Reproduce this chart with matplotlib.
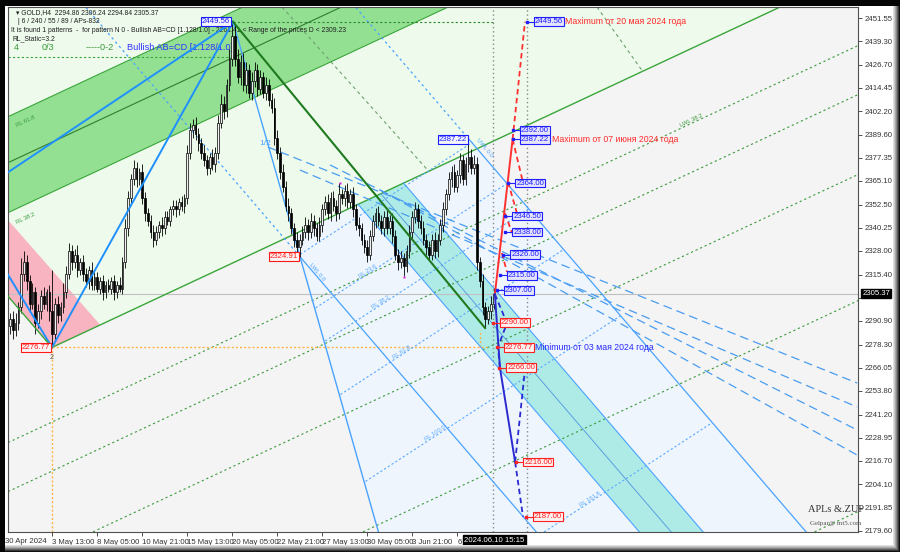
#!/usr/bin/env python3
"""GOLD H4 chart: AB=CD pattern, channels, fibo lines and projected levels."""

import matplotlib

matplotlib.use("Agg")
import matplotlib.pyplot as plt
import matplotlib.transforms as mtransforms
from matplotlib.patches import Polygon, Rectangle
import numpy as np

plt.rcParams["font.family"] = ["Liberation Sans", "DejaVu Sans"]

# ---------------- candles (H4 bars, bar 0 ~ 30 Apr) ----------------
first_open = 2288.0
close = [
    2292, 2286, 2290, 2298, 2316, 2322, 2312, 2300, 2306, 2290,
    2296, 2304, 2300, 2306, 2296, 2284, 2300, 2294, 2298, 2306,
    2316, 2328, 2322, 2326, 2318, 2322, 2316, 2312, 2318, 2310,
    2314, 2308, 2312, 2306, 2310, 2308, 2312, 2306, 2310, 2308,
    2322, 2340, 2356, 2366, 2372, 2366, 2370, 2356, 2348, 2344,
    2338, 2334, 2338, 2342, 2340, 2346, 2344, 2350, 2352, 2350,
    2354, 2352, 2356, 2380, 2392, 2395, 2390, 2385, 2380, 2376,
    2372, 2378, 2374, 2380, 2396, 2406, 2402, 2416, 2430, 2442,
    2430, 2420, 2428, 2416, 2424, 2412, 2418, 2424, 2414, 2420,
    2412, 2416, 2408, 2404, 2388, 2380, 2370, 2362, 2352, 2348,
    2340, 2334, 2330, 2334, 2338, 2342, 2338, 2344, 2340, 2336,
    2342, 2350, 2354, 2348, 2356, 2352, 2348, 2358, 2356, 2360,
    2354, 2358, 2350, 2342, 2340, 2334, 2330, 2326, 2336, 2344,
    2348, 2344, 2340, 2346, 2340, 2344, 2336, 2326, 2322, 2324,
    2320, 2328, 2338, 2346, 2350, 2344, 2340, 2334, 2330, 2326,
    2334, 2328, 2334, 2342, 2350, 2358, 2366, 2370, 2362, 2368,
    2376, 2366, 2374, 2378, 2372, 2374, 2322, 2312, 2298, 2292,
    2296, 2300, 2305.37,
]
upper_wick = [
    3, 4, 5, 3, 8, 6, 4, 3, 5, 3,
    4, 3, 5, 2, 4, 22, 3, 4, 3, 5,
    4, 4, 3, 3, 5, 2, 4, 3, 2, 4,
    3, 3, 2, 3, 2, 3, 2, 3, 2, 4,
    3, 5, 4, 3, 4, 3, 2, 4, 3, 3,
    3, 4, 3, 2, 4, 3, 3, 2, 3, 3,
    2, 3, 2, 4, 4, 3, 4, 3, 3, 4,
    3, 2, 4, 3, 4, 5, 4, 3, 5, 7.56,
    6, 5, 4, 5, 4, 3, 5, 4, 3, 4,
    3, 4, 3, 4, 5, 4, 3, 4, 3, 4,
    3, 3, 4, 3, 3, 4, 3, 4, 3, 3,
    4, 3, 3, 4, 3, 4, 3, 6, 3, 3,
    4, 3, 4, 3, 4, 3, 3, 4, 3, 3,
    3, 4, 3, 3, 4, 3, 4, 3, 3, 4,
    3, 3, 4, 3, 4, 3, 3, 4, 3, 3,
    3, 4, 3, 3, 4, 3, 4, 3, 4, 3,
    4, 3, 4, 9.22, 4, 5, 4, 3, 4, 3,
    3, 4, 3,
]
lower_wick = [
    4, 5, 3, 4, 3, 4, 5, 4, 3, 6,
    3, 4, 3, 4, 5, 7.23, 3, 4, 3, 3,
    3, 3, 4, 3, 4, 3, 4, 3, 4, 3,
    3, 2, 3, 4, 3, 2, 3, 4, 3, 2,
    3, 3, 4, 3, 3, 4, 3, 3, 4, 3,
    3, 4, 3, 3, 4, 3, 2, 3, 3, 4,
    3, 3, 4, 3, 3, 4, 3, 4, 3, 3,
    4, 3, 3, 4, 3, 3, 4, 3, 3, 4,
    4, 3, 4, 3, 4, 3, 4, 3, 4, 3,
    3, 4, 3, 3, 4, 3, 4, 3, 3, 4,
    3, 4, 3, 5.09, 3, 3, 4, 3, 4, 3,
    3, 4, 3, 3, 4, 3, 4, 3, 3, 4,
    3, 3, 4, 3, 4, 3, 3, 4, 3, 3,
    4, 3, 3, 4, 3, 3, 4, 3, 4, 3,
    5.4, 3, 4, 3, 3, 4, 3, 3, 4, 3,
    3, 4, 3, 3, 4, 3, 3, 4, 3, 3,
    4, 3, 3, 4, 3, 3, 4, 3, 4, 5,
    3, 4, 3,
]
last_price = 2305.37

# ---------------- axes ----------------
xlim = (-0.71, 301.51)
ylim = (2178.87, 2457.39)
y_ticks = [2451.55, 2439.30, 2426.70, 2414.45, 2402.20, 2389.60, 2377.35, 2365.10,
           2352.50, 2340.25, 2328.00, 2315.40, 2303.15, 2290.90, 2278.30, 2266.05,
           2253.80, 2241.20, 2228.95, 2216.70, 2204.10, 2191.85, 2179.60]
hidden_y_tick = 2303.15  # sits under the current-price tag
x_ticks = [15, 31, 47, 63, 79, 95, 111, 127, 143, 159]
x_tick_labels = ["3 May 13:00", "8 May 05:00", "10 May 21:00", "15 May 13:00",
                 "20 May 05:00", "22 May 21:00", "27 May 13:00", "30 May 05:00",
                 "3 Jun 21:00", "6"]
first_label = (-1.6, "30 Apr 2024")

# ---------------- zones (bar, price) ----------------
light_green_zone = [(-5, 2311.4), (14.93, 2276.77), (320, 2489.6), (320, 2500), (-5, 2500)]
dark_green_band = [(-5, 2396.2), (120, 2483.3), (200, 2488.2), (-5, 2345.3)]
pink_zone = [(-5, 2351.6), (32.0, 2288.9), (14.93, 2276.77), (-5, 2311.4)]
light_blue_zone = [(100.83, 2336.86), (166.08, 2382.33), (288.2, 2170), (132.7, 2170)]
cyan_band = [(123.72, 2352.8), (139.89, 2364.07), (251.56, 2170), (228.9, 2170)]

# ---------------- lines (bar, price) ----------------
green_channel = {
    "main": [(14.93, 2276.77), (320, 2489.6)],
    "61.8": [(-5, 2396.2), (120, 2483.3)],
    "mid": [(-5, 2371.8), (150, 2479.8)],
    "38.2": [(-5, 2345.3), (200, 2488.2)],
}
green_dotted = [
    [(-5, 2223.3), (320, 2449.8)],
    [(-5, 2197.3), (320, 2423.8)],
    [(-5, 2154.9), (320, 2381.4)],
    [(-5, 2088.0), (320, 2314.5)],
    [(-5, 1976.1), (320, 2202.6)],
]
green_cross = [
    [(96.7, 2457.4), (148.8, 2370.4)],
    [(208.7, 2457.4), (225.1, 2422.9)],
]
abcd_lines = [
    [(-0.71, 2369.7), (79.29, 2449.56)],
    [(14.93, 2276.77), (79.29, 2449.56)],
    [(-0.71, 2315.4), (14.93, 2276.77)],
]
green_leg_left = [(-0.71, 2303.97), (14.93, 2276.77)]
dark_green_leg = [(79.29, 2449.56), (168.9, 2287.1)]
steep_line = [(79.29, 2449.56), (132.7, 2170)]
lwl = [(103.11, 2324.91), (192.24, 2170)]
lwl_ext = [(22.5, 2465), (103.11, 2324.91)]
uwl = [(163.2, 2387.22), (288.2, 2170)]
uwl_ext = [(118.45, 2465), (163.2, 2387.22)]
cyan_mid = [(131.8, 2358.4), (240.2, 2170)]
rl_lines = {
    "RL 0.0": [(103.2, 2326.2), (164.4, 2385.6)],
    "RL 23.6": [(108.7, 2297.8), (176.8, 2363.8)],
    "RL 38.2": [(112.1, 2280.2), (184.5, 2350.4)],
    "RL 61.8": [(117.5, 2251.8), (196.9, 2328.8)],
    "RL 100.0": [(126.4, 2205.7), (217.1, 2293.6)],
    "RL 161.8": [(189.9, 2178.9), (249.6, 2236.8)],
}
fan_lines = [
    [(91.7, 2383.1), (301.2, 2257.9)],
    [(103.1, 2370.9), (301.2, 2245.2)],
    [(113.8, 2373.6), (301.2, 2233.0)],
    [(131.6, 2360.3), (301.2, 2219.7)],
]
high_level = (79.29, 171.7, 2449.56)
upper_dash_level = (-0.71, 80.0, 2430.86)
low_level = (14.93, 169.6, 2276.77)
now_bars = [171.7, 183.8]
fractal_marks = [(117.3, 2364.0), (140.1, 2314.2)]

# ---------------- projections ----------------
red_solid = [(172.4, 2305.0), (178.7, 2387.22)]
red_dashed = [
    [(178.7, 2387.22), (183.1, 2449.56)],
    [(178.7, 2387.22), (182.2, 2365.6)],
    [(177.1, 2364.5), (180.2, 2348.2)],
    [(176.0, 2348.0), (178.5, 2337.5)],
    [(174.9, 2326.9), (176.7, 2316.8)],
]
blue_solid = [(172.4, 2305.0), (174.2, 2266.0), (179.6, 2216.0)]
blue_dashed = [
    [(179.6, 2216.0), (182.4, 2187.0)],
    [(179.6, 2216.0), (183.1, 2265.0)],
    [(172.4, 2305.0), (176.7, 2289.7), (173.5, 2277.0), (174.2, 2266.0)],
]
blue_targets = [(186.3, 2449.56), (181.3, 2392.00), (181.3, 2387.22), (179.6, 2364.00),
                (178.5, 2346.50), (178.5, 2338.00), (177.8, 2326.00), (176.7, 2315.00),
                (175.6, 2307.00)]
red_targets = [(174.2, 2290.00), (175.6, 2276.77), (176.4, 2266.00), (182.4, 2216.00),
               (185.9, 2187.00)]
notes = [
    (197.3, 2449.56, "Maximum от 20 мая 2024 года", "#ff2a2a"),
    (192.7, 2387.22, "Maximum от 07 июня 2024 года", "#ff2a2a"),
    (186.7, 2276.77, "Minimum от 03 мая 2024 года", "#2a2aff"),
]
pivot_boxes = [
    (78.2, 2449.56, "2449.56", "blue"),
    (14.2, 2276.77, "2276.77", "red"),
    (102.4, 2324.91, "2324.91", "red"),
    (162.5, 2387.22, "2387.22", "blue"),
]

header = [
    (0.005, 0.990, "\u25be GOLD,H4  2294.86 2306.24 2294.84 2305.37", "#202020"),
    (0.005, 0.973, " | 6 / 240 / 55 / 89 / APs-832", "#202020"),
    (0.000, 0.956, "It is found 1 patterns  -  for pattern N 0 - Bullish AB=CD [1.128/1.0] - 2261.41 < Range of the prices D < 2309.23", "#202020"),
    (0.001, 0.939, "RL_Static=3.2", "#202020"),
]
header_big = [
    (0.007, "4", "#3a9a3a"),
    (0.040, "0/3", "#3a9a3a"),
    (0.091, "-----0-2", "#3a9a3a"),
    (0.140, "Bullish AB=CD [1.128/1.0]", "#3030ff"),
]

BLUE = "#1e90ff"
LBLUE = "#4aa3ff"


def seg(ax, pts, **kw):
    xs, ys = zip(*pts)
    ax.plot(xs, ys, **kw)


fig = plt.figure(figsize=(9, 5.52), dpi=100)
fig.patch.set_facecolor("white")
ax = fig.add_axes([8 / 900, 20 / 552, 850 / 900, 525 / 552])
ax.set_facecolor("#f4f4f4")
ax.set_xlim(*xlim)
ax.set_ylim(*ylim)

# zones
ax.add_patch(Polygon(light_green_zone, closed=True, fc="#eefbec", ec="none", zorder=0.5))
ax.add_patch(Polygon(dark_green_band, closed=True, fc="#93e093", ec="none", zorder=0.6))
ax.add_patch(Polygon(pink_zone, closed=True, fc="#f9b4c1", ec="none", zorder=0.6))
ax.add_patch(Polygon(light_blue_zone, closed=True, fc="#eef5fd", ec="none", zorder=0.6))
ax.add_patch(Polygon(cyan_band, closed=True, fc="#afebe6", ec="none", zorder=0.7))

# green channel
for name, pts in green_channel.items():
    lw = 1.0 if name == "main" else 0.8
    col = "#3aa53a" if name != "mid" else "#2f7d2f"
    seg(ax, pts, color=col, lw=lw, zorder=1.5)
for pts in green_dotted:
    seg(ax, pts, color="#3c9a3c", lw=0.8, ls=(0, (2, 2.5)), zorder=1.4)
for pts in green_cross:
    seg(ax, pts, color="#6f9f6f", lw=0.8, ls=(0, (3, 3)), zorder=1.4)

# level lines
ax.axhline(last_price, color="#c0c0c0", lw=0.8, zorder=1.2)
ax.hlines(high_level[2], high_level[0], high_level[1], color="#2f8a2f", lw=0.8,
          ls=(0, (2, 2)), zorder=1.6)
ax.hlines(upper_dash_level[2], upper_dash_level[0], upper_dash_level[1], color="#3aa53a",
          lw=0.8, ls=(0, (2, 2)), zorder=1.6)
ax.hlines(low_level[2], low_level[0], low_level[1], color="#ffb347", lw=1.0,
          ls=(0, (1.5, 1.5)), zorder=1.6)
ax.vlines(low_level[0], ylim[0], low_level[2], color="#ffb347", lw=1.0,
          ls=(0, (1.5, 1.5)), zorder=1.6)
ax.vlines(low_level[1] - 2.5, low_level[2], 2286.0, color="#ffb347", lw=1.0,
          ls=(0, (1.5, 1.5)), zorder=1.6)
for xb in now_bars:
    ax.axvline(xb, color="#8a8a8a", lw=1.0, ls=(0, (1, 2)), zorder=1.6)

# blue channel lines
seg(ax, lwl, color=LBLUE, lw=0.9, zorder=1.8)
seg(ax, uwl, color=LBLUE, lw=0.9, zorder=1.8)
seg(ax, lwl_ext, color=LBLUE, lw=0.9, ls=(0, (2, 2.5)), zorder=1.8)
seg(ax, uwl_ext, color=LBLUE, lw=0.9, ls=(0, (2, 2.5)), zorder=1.8)
seg(ax, cyan_band[:1] + [cyan_band[3]], color=LBLUE, lw=0.8, zorder=1.8)
seg(ax, [cyan_band[1], cyan_band[2]], color=LBLUE, lw=0.8, zorder=1.8)
seg(ax, cyan_mid, color="#5a9fe0", lw=0.7, zorder=1.8)
seg(ax, steep_line, color=LBLUE, lw=1.0, zorder=1.8)
for name, pts in rl_lines.items():
    seg(ax, pts, color="#5aa8ff", lw=0.8, ls=(0, (2, 2)), zorder=1.7)
for pts in fan_lines:
    seg(ax, pts, color="#4a9cf0", lw=0.9, ls=(0, (7, 4)), zorder=1.7)

# candles
opens = np.array([first_open] + close[:-1], dtype=float)
closes = np.array(close, dtype=float)
highs = np.maximum(opens, closes) + np.array(upper_wick)
lows = np.minimum(opens, closes) - np.array(lower_wick)
bars = np.arange(len(closes))
ax.vlines(bars, lows, highs, color="black", lw=0.6, zorder=3)
bull = closes >= opens
ax.bar(bars[bull], (closes - opens)[bull], bottom=opens[bull], width=0.62,
       color="#f0f0f0", edgecolor="black", lw=0.5, zorder=3.1)
ax.bar(bars[~bull], (opens - closes)[~bull], bottom=closes[~bull], width=0.62,
       color="black", edgecolor="black", lw=0.5, zorder=3.1)
for xb, yp in fractal_marks:
    ax.plot(xb, yp, marker="s", ms=2, color="#e020e0", mec="none", zorder=3.5)

# pattern lines on top of the candles
for pts in abcd_lines:
    seg(ax, pts, color=BLUE, lw=1.4, zorder=4)
seg(ax, green_leg_left, color="#3aa53a", lw=1.0, zorder=4)
seg(ax, dark_green_leg, color="#1f7a1f", lw=1.5, zorder=4)

# projections
seg(ax, red_solid, color="#ff3030", lw=1.4, zorder=4.5)
for pts in red_dashed:
    seg(ax, pts, color="#ff3030", lw=1.3, ls=(0, (3, 2)), zorder=4.5)
seg(ax, blue_solid, color="#2a2ad0", lw=1.4, zorder=4.5)
for pts in blue_dashed:
    seg(ax, pts, color="#2a2ad0", lw=1.3, ls=(0, (3, 2)), zorder=4.5)

box_kw = dict(boxstyle="square,pad=0.12", lw=0.8)
for xb, yp in blue_targets:
    ax.plot([xb - 2.6, xb], [yp, yp], color="#2020ff", lw=0.8, zorder=5)
    ax.plot(xb - 2.6, yp, marker="s", ms=1.8, color="#2020ff", zorder=5)
    ax.text(xb + 0.4, yp, f"{yp:.2f}", ha="left", va="center", fontsize=5.6,
            color="#1a1aff", zorder=6,
            bbox=dict(fc="#e4e4ff", ec="#2020ff", **box_kw))
for xb, yp in red_targets:
    ax.plot([xb - 2.6, xb], [yp, yp], color="#ff2020", lw=0.8, zorder=5)
    ax.plot(xb - 2.6, yp, marker="s", ms=1.8, color="#ff2020", zorder=5)
    ax.text(xb + 0.4, yp, f"{yp:.2f}", ha="left", va="center", fontsize=5.6,
            color="#ff1a1a", zorder=6,
            bbox=dict(fc="#fff0f0", ec="#ff2020", **box_kw))
for xb, yp, s, col in notes:
    ax.text(xb, yp, s, ha="left", va="center", fontsize=6.3, color=col, zorder=6)
for xb, yp, s, kind in pivot_boxes:
    col = "#1a1aff" if kind == "blue" else "#ff1a1a"
    fc = "#f4f4ff" if kind == "blue" else "#fff4f4"
    ax.text(xb, yp, s, ha="right", va="center", fontsize=5.6, color=col, zorder=6,
            bbox=dict(fc=fc, ec=col, **box_kw))
ax.text(14.93, 2273.2, "2", ha="center", va="top", fontsize=5, color="#555555", zorder=6)
ax.text(90.7, 2385.2, "1/2", ha="center", va="center", fontsize=6, color=LBLUE, zorder=6)

# small line labels
for name, pts in rl_lines.items():
    if name == "RL 0.0":
        continue
    (x0, y0), (x1, y1) = pts
    ax.text(x0 + 0.28 * (x1 - x0), y0 + 0.28 * (y1 - y0), name, fontsize=4.2,
            color="#5aa8ff", rotation=33, ha="center", va="bottom", zorder=2,
            rotation_mode="anchor")
ax.text(2.0, 2394.0, "RL 61.8", fontsize=4.2, color="#3c9a3c", rotation=25, zorder=2)
ax.text(2.0, 2342.5, "RL 38.2", fontsize=4.2, color="#3c9a3c", rotation=25, zorder=2)
ax.text(238.0, 2394.0, "LWL 38.2", fontsize=4.2, color="#3c9a3c", rotation=25, zorder=2)
ax.text(106.0, 2322.0, "LWL 0.0", fontsize=4.2, color=LBLUE, rotation=-50, zorder=2,
        ha="left", va="top")
ax.text(165.5, 2388.0, "UWL 0.0", fontsize=4.2, color=LBLUE, rotation=-50, zorder=2,
        ha="left", va="top")

# header
for xf, yf, s, col in header:
    ax.text(xf + 0.004, yf, s, transform=ax.transAxes, fontsize=4.9, color=col,
            ha="left", va="center", zorder=2)
for xf, s, col in header_big:
    ax.text(xf, 0.922, s, transform=ax.transAxes, fontsize=6.6, color=col,
            ha="left", va="center", zorder=2)

# watermark
ax.text(0.941, 0.035, "APLs &.ZUP", transform=ax.transAxes, fontsize=7.5,
        family=["Liberation Serif", "DejaVu Serif"], color="#333333", ha="left", va="bottom")
ax.text(0.944, 0.012, "Gelpar@ mt5.com", transform=ax.transAxes, fontsize=5,
        family=["Liberation Serif", "DejaVu Serif"], color="#555555", ha="left", va="bottom")

# axes styling
ax.yaxis.tick_right()
ax.set_yticks(y_ticks)
ax.set_yticklabels(["" if v == hidden_y_tick else f"{v:.2f}" for v in y_ticks])
ax.set_xticks(x_ticks)
ax.set_xticklabels(x_tick_labels)
for lab in ax.get_xticklabels():
    lab.set_horizontalalignment("left")
ax.tick_params(axis="y", labelsize=5.6, length=3, width=0.6, pad=1.5, colors="#333333")
ax.tick_params(axis="x", labelsize=5.6, length=3, width=0.6, pad=2, colors="#333333")
for sp in ax.spines.values():
    sp.set_color("#505050")
    sp.set_linewidth(0.8)
xblend = mtransforms.blended_transform_factory(ax.transData, ax.transAxes)
ax.text(first_label[0], -0.012, first_label[1], transform=xblend, fontsize=5.6,
        color="#333333", ha="left", va="top", clip_on=False)

yblend = mtransforms.blended_transform_factory(ax.transAxes, ax.transData)
ax.text(1.005, last_price, f"{last_price:.2f}", transform=yblend, fontsize=5.6, color="white",
        ha="left", va="center", zorder=7, clip_on=False,
        bbox=dict(boxstyle="square,pad=0.15", fc="black", ec="black"))
ax.text(161.4, -0.009, "2024.06.10 15:15", transform=xblend, fontsize=5.6, color="white",
        ha="left", va="top", zorder=7, clip_on=False,
        bbox=dict(boxstyle="square,pad=0.18", fc="black", ec="black"))

# picture frame
greys = ["#e0e0e0", "#c8c8c8", "#a8a8a8", "#888888", "#606060", "#383838", "#101010"]
for i, g in enumerate(greys):
    fig.patches.append(Rectangle(((893 + i) / 900, 0), 1 / 900, 1, transform=fig.transFigure,
                                 fc=g, ec="none", zorder=5))
    fig.patches.append(Rectangle((0, (7 - i) / 552 - 1 / 552), 1, 1 / 552,
                                 transform=fig.transFigure, fc=g, ec="none", zorder=5))
fig.patches.append(Rectangle((0, 1 - 6 / 552), 1, 6 / 552, transform=fig.transFigure,
                             fc="#050505", ec="none", zorder=6))
fig.patches.append(Rectangle((0, 0), 5 / 900, 1, transform=fig.transFigure,
                             fc="#050505", ec="none", zorder=6))

fig.savefig("out.png", dpi=100)
